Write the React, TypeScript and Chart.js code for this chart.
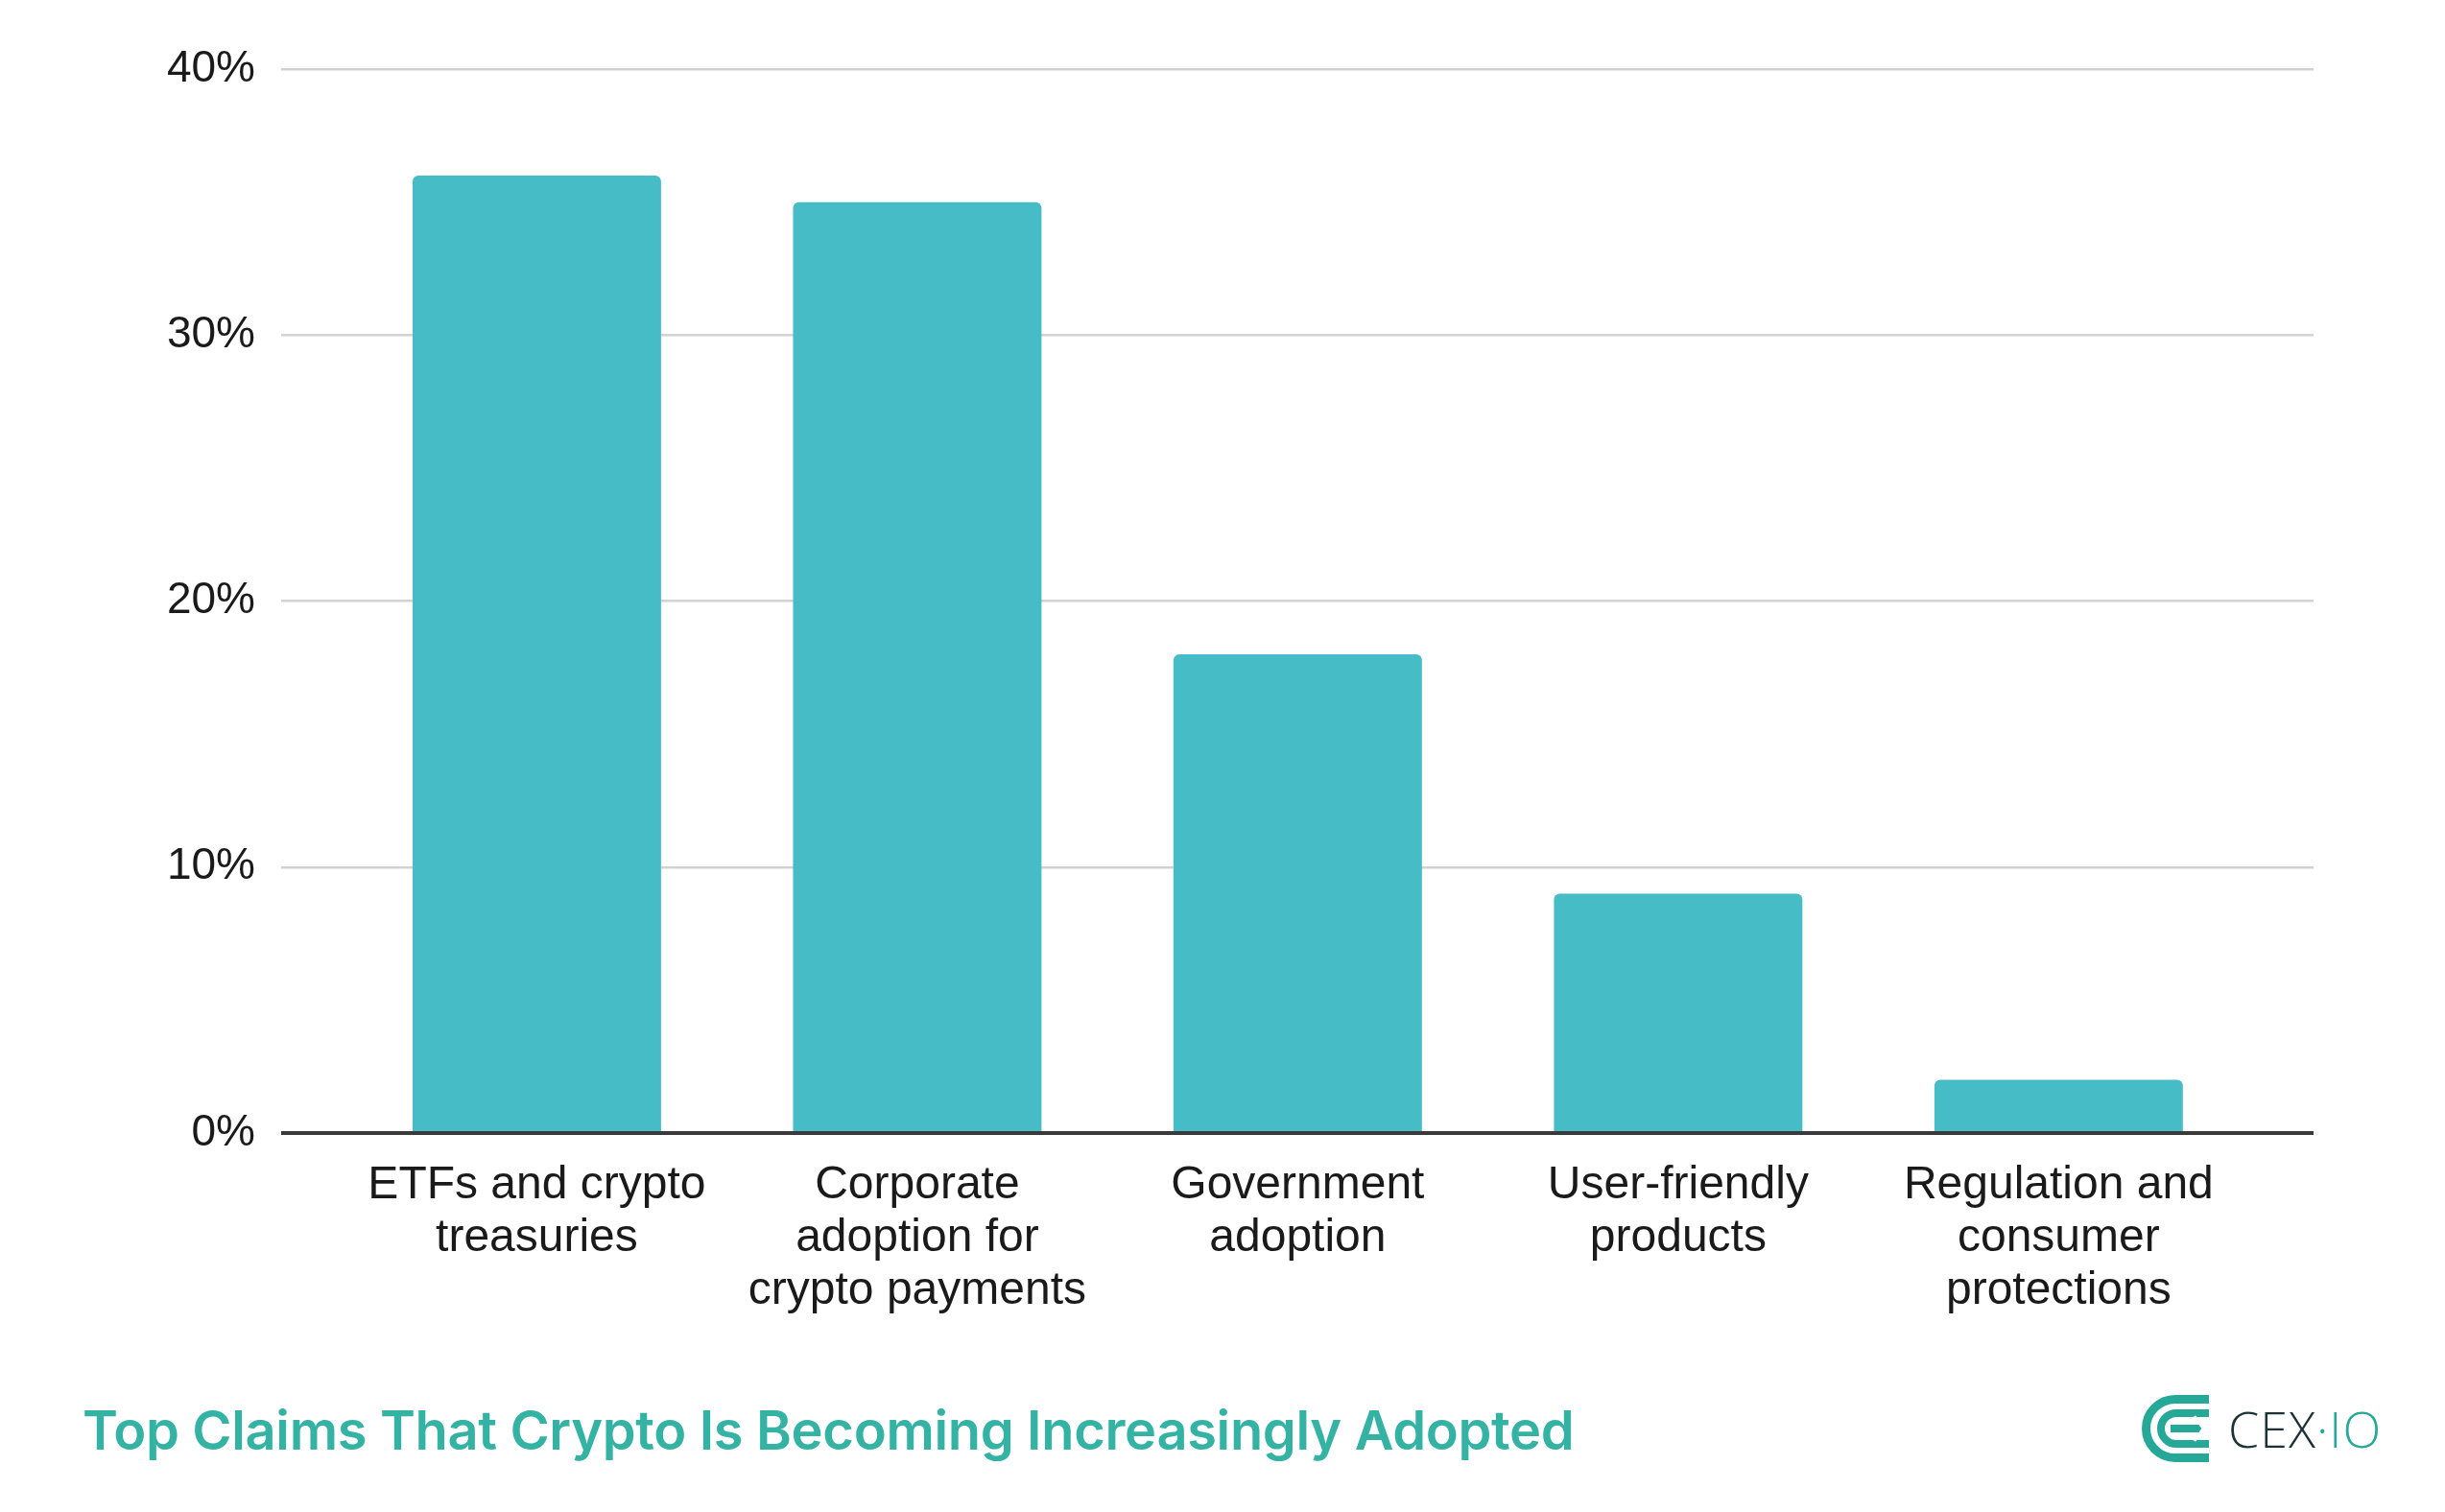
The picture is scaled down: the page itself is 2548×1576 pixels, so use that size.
import React, { useEffect, useRef } from "react";
import { Chart, registerables } from "chart.js";

Chart.register(...registerables);

const categories: string[][] = [
  ["ETFs and crypto", "treasuries"],
  ["Corporate", "adoption for", "crypto payments"],
  ["Government", "adoption"],
  ["User-friendly", "products"],
  ["Regulation and", "consumer", "protections"],
];
const values: number[] = [36, 35, 18, 9, 2];
const yTickValues: number[] = [0, 10, 20, 30, 40];
const titleText = "Top Claims That Crypto Is Becoming Increasingly Adopted";

const BAR_COLOR = "#46bcc6";
const TEAL = "#34b3a5";
const LOGO_TEAL = "#26a898";

export default function App() {
  const canvasRef = useRef<HTMLCanvasElement | null>(null);

  useEffect(() => {
    document.body.style.margin = "0";
    const canvas = canvasRef.current;
    if (!canvas) return;
    const chart = new Chart(canvas, {
      type: "bar",
      data: {
        datasets: [
          {
            data: values.map((v, i) => ({ x: i, y: v })),
            backgroundColor: BAR_COLOR,
            borderRadius: 6,
            borderSkipped: "start",
            barPercentage: 0.653,
            categoryPercentage: 1,
          },
        ],
      },
      options: {
        animation: false,
        responsive: false,
        devicePixelRatio: 1,
        layout: { padding: { top: 72, right: 137, left: 0, bottom: 0 } },
        plugins: {
          legend: { display: false },
          tooltip: { enabled: false },
          title: { display: false },
        },
        scales: {
          x: {
            type: "linear",
            offset: false,
            min: -0.672,
            max: 4.67,
            grid: { display: false, drawTicks: false },
            border: { display: false },
            afterBuildTicks: (scale: any) => {
              scale.ticks = categories.map((_, i) => ({ value: i }));
            },
            afterFit: (scale: any) => {
              scale.height = 219;
            },
            ticks: {
              autoSkip: false,
              maxRotation: 0,
              padding: 27,
              color: "#1a1a1a",
              font: { family: "'Liberation Sans', Arial, sans-serif", size: 48, lineHeight: 1.15 },
              callback: (value: any) => {
                const idx = Math.round(Number(value));
                return categories[idx] ?? "";
              },
            },
          },
          y: {
            min: 0,
            max: 40,
            afterBuildTicks: (scale: any) => {
              scale.ticks = yTickValues.map((v) => ({ value: v }));
            },
            afterFit: (scale: any) => {
              scale.width = 293;
            },
            border: { display: false },
            grid: {
              drawTicks: false,
              color: (ctx: any) => (ctx.tick && ctx.tick.value === 0 ? "#3a3a3a" : "#d2d2d2"),
              lineWidth: (ctx: any) => (ctx.tick && ctx.tick.value === 0 ? 4 : 2.5),
            },
            ticks: {
              padding: 27,
              color: "#1a1a1a",
              font: { family: "'Liberation Sans', Arial, sans-serif", size: 46 },
              callback: (value: any) => `${value}%`,
            },
          },
        },
      },
    });
    return () => chart.destroy();
  }, []);

  return (
    <div style={{ position: "relative", width: 2548, height: 1576, background: "#fff", overflow: "hidden" }}>
      <canvas
        ref={canvasRef}
        width={2548}
        height={1400}
        style={{ position: "absolute", left: 0, top: 0, width: 2548, height: 1400 }}
      />
      <div
        style={{
          position: "absolute",
          left: 86,
          top: 1453,
          fontFamily: "Inter, 'Noto Sans', sans-serif",
          fontWeight: 600,
          fontSize: 56,
          lineHeight: "76px",
          color: TEAL,
          whiteSpace: "nowrap",
          letterSpacing: "-0.35px",
        }}
      >
        {titleText}
      </div>
      <div style={{ position: "absolute", left: 2232, top: 1454, height: 70, display: "flex", alignItems: "center" }}>
        <svg width={70} height={70} viewBox="0 0 70 70">
          <path d="M70 4.5 L35 4.5 A30.5 30.5 0 0 0 35 65.5 L70 65.5" fill="none" stroke={LOGO_TEAL} strokeWidth={9} />
          <path d="M70 19 L36 19 A16 16 0 0 0 36 51 L70 51" fill="none" stroke={LOGO_TEAL} strokeWidth={8} />
          <polygon points="30,31 60,31 64,35 60,39 30,39" fill={LOGO_TEAL} />
          <path d="M55 22 L64 35 L55 48" fill="none" stroke="#fff" strokeWidth={3} />
        </svg>
        <span
          style={{
            marginLeft: 20,
            fontFamily: "'Open Sans', sans-serif",
            fontWeight: 300,
            fontSize: 52,
            lineHeight: "70px",
            color: "#1c3236",
            letterSpacing: "1px",
          }}
        >
          CEX<span style={{ color: LOGO_TEAL }}>·IO</span>
        </span>
      </div>
    </div>
  );
}
